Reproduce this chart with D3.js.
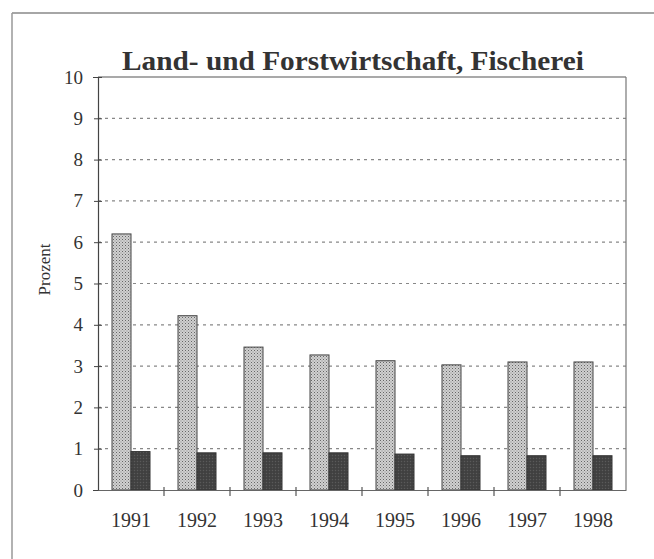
<!DOCTYPE html>
<html>
<head>
<meta charset="utf-8">
<script src="https://cdn.jsdelivr.net/npm/d3@7"></script>
<style>
  body { margin: 0; background: #fff; }
  svg { display: block; }
  text { font-family: "Liberation Serif", "DejaVu Serif", serif; fill: #333; }
</style>
</head>
<body>
<svg id="chart" width="654" height="559"></svg>
<script>
var years = ["1991", "1992", "1993", "1994", "1995", "1996", "1997", "1998"];
var seriesA = [6.2, 4.22, 3.46, 3.27, 3.13, 3.03, 3.1, 3.1];
var seriesB = [0.93, 0.9, 0.9, 0.9, 0.87, 0.83, 0.83, 0.83];
var yTicks = [0, 1, 2, 3, 4, 5, 6, 7, 8, 9, 10];

var svg = d3.select("#chart");
var margin = { top: 77, right: 28, bottom: 69, left: 98 },
    width = 654 - margin.left - margin.right,
    height = 559 - margin.top - margin.bottom;

// patterns for the two bar kinds
var defs = svg.append("defs");
var pa = defs.append("pattern").attr("id", "patA")
    .attr("width", 3).attr("height", 3).attr("patternUnits", "userSpaceOnUse");
pa.append("rect").attr("width", 3).attr("height", 3).attr("fill", "#d0d0d0");
pa.append("rect").attr("width", 1).attr("height", 1).attr("fill", "#666");
pa.append("rect").attr("x", 1.5).attr("y", 1.5).attr("width", 1).attr("height", 1).attr("fill", "#888");
var pb = defs.append("pattern").attr("id", "patB")
    .attr("width", 3).attr("height", 3).attr("patternUnits", "userSpaceOnUse");
pb.append("rect").attr("width", 3).attr("height", 3).attr("fill", "#444");
pb.append("rect").attr("width", 1).attr("height", 1).attr("fill", "#5a5a5a");
pb.append("rect").attr("x", 1.5).attr("y", 1.5).attr("width", 1).attr("height", 1).attr("fill", "#333");

// outer frame
svg.append("line").attr("x1", 12).attr("x2", 654).attr("y1", 13).attr("y2", 13)
    .attr("stroke", "#888").attr("stroke-width", 1.5);
svg.append("line").attr("x1", 12).attr("x2", 12).attr("y1", 13).attr("y2", 559)
    .attr("stroke", "#999").attr("stroke-width", 1.5);

var g = svg.append("g").attr("transform", "translate(" + margin.left + "," + margin.top + ")");

var x = d3.scaleBand().domain(years).range([0, width]);
var y = d3.scaleLinear().domain([0, 10]).range([height, 0]);

// gridlines
g.selectAll(".grid")
    .data(yTicks.filter(function (d) { return d > 0 && d < 10; }))
    .enter().append("line")
    .attr("x1", 0).attr("x2", width)
    .attr("y1", function (d) { return y(d); })
    .attr("y2", function (d) { return y(d); })
    .attr("stroke", "#888").attr("stroke-width", 1.2)
    .attr("stroke-dasharray", "3,4");

// plot box top and right
g.append("line").attr("x1", 0).attr("x2", width).attr("y1", y(10)).attr("y2", y(10))
    .attr("stroke", "#555").attr("stroke-width", 1.2);
g.append("line").attr("x1", width).attr("x2", width).attr("y1", 0).attr("y2", height)
    .attr("stroke", "#777").attr("stroke-width", 1.2);

// bars
var bw = 19;
var groupW = bw * 2;
g.selectAll(".barA").data(seriesA).enter().append("rect")
    .attr("class", "barA")
    .attr("x", function (d, i) { return x(years[i]) + x.bandwidth() / 2 - groupW / 2; })
    .attr("y", function (d) { return y(d); })
    .attr("width", bw)
    .attr("height", function (d) { return height - y(d); })
    .attr("fill", "url(#patA)").attr("stroke", "#444").attr("stroke-width", 1);
g.selectAll(".barB").data(seriesB).enter().append("rect")
    .attr("class", "barB")
    .attr("x", function (d, i) { return x(years[i]) + x.bandwidth() / 2 - groupW / 2 + bw; })
    .attr("y", function (d) { return y(d); })
    .attr("width", bw)
    .attr("height", function (d) { return height - y(d); })
    .attr("fill", "url(#patB)").attr("stroke", "#333").attr("stroke-width", 1);

// y axis
var yAxis = g.append("g")
    .call(d3.axisLeft(y).tickValues(yTicks).tickSize(5).tickPadding(10));
yAxis.select(".domain").attr("stroke", "#444").attr("stroke-width", 1.2);
yAxis.selectAll(".tick line").attr("stroke", "#444").attr("x2", 4).attr("x1", -4);
yAxis.selectAll("text").style("font-size", "19px").attr("fill", "#333")
    .style("font-family", "'Liberation Serif', serif");

// x axis
var xAxis = g.append("g").attr("transform", "translate(0," + height + ")")
    .call(d3.axisBottom(x).tickSize(0).tickPadding(23));
xAxis.select(".domain").attr("stroke", "#666").attr("stroke-width", 1.2);
xAxis.selectAll("text").style("font-size", "20px").attr("fill", "#444")
    .style("font-family", "'Liberation Serif', serif");
// boundary ticks between categories
g.selectAll(".xtick").data(years.slice(1)).enter().append("line")
    .attr("x1", function (d) { return x(d); })
    .attr("x2", function (d) { return x(d); })
    .attr("y1", height - 3).attr("y2", height + 6)
    .attr("stroke", "#555").attr("stroke-width", 1.2);

// title
svg.append("text")
    .attr("x", 353).attr("y", 70)
    .attr("text-anchor", "middle")
    .attr("textLength", 462).attr("lengthAdjust", "spacingAndGlyphs")
    .style("font-size", "27px").style("font-weight", "bold").attr("fill", "#222")
    .text("Land- und Forstwirtschaft, Fischerei");

// y label
svg.append("text")
    .attr("transform", "translate(50," + (margin.top + height / 2 - 14) + ") rotate(-90)")
    .attr("text-anchor", "middle")
    .style("font-size", "17px").attr("fill", "#333")
    .text("Prozent");
</script>
</body>
</html>
